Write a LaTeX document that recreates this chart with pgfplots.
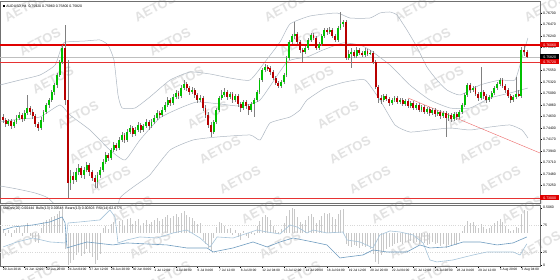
\documentclass[border=0pt]{standalone}
\usepackage{pgfplots}
\pgfplotsset{compat=1.18}
\usepackage{pgfplotstable}
\usepackage{fontspec}
\setmainfont{Liberation Sans}
\definecolor{upc}{HTML}{00C000}
\definecolor{dnc}{HTML}{B80000}
\definecolor{wick}{HTML}{808080}
\definecolor{band}{HTML}{AEB8C2}
\definecolor{frame}{HTML}{707070}
\definecolor{wm}{HTML}{E2E2E2}
\definecolor{boxred}{HTML}{E00000}
\definecolor{lineA}{HTML}{6F9CC0}
\definecolor{lineB}{HTML}{A7C4DA}
\definecolor{hist}{HTML}{C8C8C8}

\pgfplotstableread{
i o h l c
0 0.7462 0.7468 0.7450 0.7456
1 0.7456 0.7460 0.7442 0.7448
2 0.7448 0.7458 0.7444 0.7454
3 0.7454 0.7458 0.7438 0.7444
4 0.7444 0.7456 0.7440 0.7452
5 0.7452 0.7466 0.7448 0.7460
6 0.7460 0.7472 0.7456 0.7466
7 0.7466 0.7470 0.7452 0.7458
8 0.7458 0.7476 0.7454 0.7470
9 0.7470 0.7506 0.7466 0.7480
10 0.7480 0.7484 0.7466 0.7472
11 0.7472 0.7478 0.7458 0.7464
12 0.7464 0.7468 0.7442 0.7448
13 0.7448 0.7452 0.7434 0.7440
14 0.7440 0.7462 0.7436 0.7456
15 0.7456 0.7476 0.7452 0.7472
16 0.7472 0.7490 0.7468 0.7486
17 0.7486 0.7500 0.7480 0.7496
18 0.7496 0.7516 0.7492 0.7512
19 0.7512 0.7530 0.7506 0.7526
20 0.7526 0.7550 0.7520 0.7546
21 0.7546 0.7576 0.7542 0.7572
22 0.7572 0.7606 0.7568 0.7600
23 0.7600 0.7646 0.7486 0.7496
24 0.7496 0.7576 0.7300 0.7330
25 0.7330 0.7356 0.7316 0.7344
26 0.7344 0.7352 0.7328 0.7336
27 0.7336 0.7360 0.7332 0.7352
28 0.7352 0.7368 0.7346 0.7360
29 0.7360 0.7364 0.7340 0.7346
30 0.7346 0.7362 0.7338 0.7356
31 0.7356 0.7372 0.7352 0.7366
32 0.7366 0.7370 0.7344 0.7352
33 0.7352 0.7356 0.7334 0.7340
34 0.7340 0.7346 0.7320 0.7332
35 0.7332 0.7352 0.7320 0.7346
36 0.7346 0.7362 0.7340 0.7356
37 0.7356 0.7378 0.7352 0.7372
38 0.7372 0.7392 0.7368 0.7386
39 0.7386 0.7390 0.7374 0.7380
40 0.7380 0.7400 0.7376 0.7396
41 0.7396 0.7412 0.7392 0.7406
42 0.7406 0.7410 0.7394 0.7400
43 0.7400 0.7422 0.7396 0.7416
44 0.7416 0.7432 0.7412 0.7426
45 0.7426 0.7430 0.7410 0.7416
46 0.7416 0.7438 0.7412 0.7432
47 0.7432 0.7446 0.7428 0.7440
48 0.7440 0.7444 0.7422 0.7428
49 0.7428 0.7442 0.7424 0.7436
50 0.7436 0.7452 0.7432 0.7446
51 0.7446 0.7450 0.7430 0.7436
52 0.7436 0.7448 0.7432 0.7444
53 0.7444 0.7458 0.7440 0.7452
54 0.7452 0.7456 0.7436 0.7444
55 0.7444 0.7458 0.7440 0.7452
56 0.7452 0.7466 0.7448 0.7460
57 0.7460 0.7476 0.7456 0.7470
58 0.7470 0.7474 0.7460 0.7466
59 0.7466 0.7482 0.7462 0.7476
60 0.7476 0.7492 0.7472 0.7486
61 0.7486 0.7502 0.7482 0.7496
62 0.7496 0.7500 0.7484 0.7490
63 0.7490 0.7508 0.7486 0.7502
64 0.7502 0.7516 0.7498 0.7510
65 0.7510 0.7514 0.7498 0.7504
66 0.7504 0.7526 0.7500 0.7520
67 0.7520 0.7536 0.7516 0.7528
68 0.7528 0.7532 0.7514 0.7520
69 0.7520 0.7524 0.7506 0.7512
70 0.7512 0.7522 0.7508 0.7516
71 0.7516 0.7520 0.7500 0.7506
72 0.7506 0.7510 0.7490 0.7496
73 0.7496 0.7506 0.7492 0.7500
74 0.7500 0.7504 0.7474 0.7480
75 0.7480 0.7486 0.7460 0.7466
76 0.7466 0.7472 0.7440 0.7446
77 0.7446 0.7452 0.7422 0.7432
78 0.7432 0.7456 0.7428 0.7452
79 0.7452 0.7480 0.7448 0.7476
80 0.7476 0.7504 0.7472 0.7500
81 0.7500 0.7516 0.7496 0.7506
82 0.7506 0.7520 0.7502 0.7512
83 0.7512 0.7516 0.7496 0.7502
84 0.7502 0.7512 0.7498 0.7508
85 0.7508 0.7512 0.7490 0.7496
86 0.7496 0.7508 0.7492 0.7504
87 0.7504 0.7508 0.7482 0.7488
88 0.7488 0.7492 0.7472 0.7480
89 0.7480 0.7496 0.7476 0.7492
90 0.7492 0.7496 0.7478 0.7484
91 0.7484 0.7488 0.7466 0.7476
92 0.7476 0.7492 0.7472 0.7488
93 0.7488 0.7500 0.7462 0.7496
94 0.7496 0.7516 0.7492 0.7512
95 0.7512 0.7540 0.7508 0.7536
96 0.7536 0.7560 0.7532 0.7556
97 0.7556 0.7568 0.7552 0.7562
98 0.7562 0.7566 0.7554 0.7560
99 0.7560 0.7564 0.7546 0.7552
100 0.7552 0.7556 0.7536 0.7540
101 0.7540 0.7544 0.7526 0.7530
102 0.7530 0.7534 0.7520 0.7524
103 0.7524 0.7536 0.7520 0.7532
104 0.7532 0.7550 0.7528 0.7546
105 0.7546 0.7584 0.7542 0.7580
106 0.7580 0.7616 0.7576 0.7612
107 0.7612 0.7628 0.7608 0.7624
108 0.7624 0.7652 0.7618 0.7628
109 0.7628 0.7632 0.7608 0.7612
110 0.7612 0.7616 0.7590 0.7596
111 0.7596 0.7600 0.7572 0.7592
112 0.7592 0.7604 0.7588 0.7600
113 0.7600 0.7620 0.7596 0.7616
114 0.7616 0.7630 0.7612 0.7626
115 0.7626 0.7630 0.7616 0.7620
116 0.7620 0.7624 0.7596 0.7600
117 0.7600 0.7612 0.7596 0.7608
118 0.7608 0.7628 0.7604 0.7624
119 0.7624 0.7640 0.7620 0.7636
120 0.7636 0.7640 0.7626 0.7632
121 0.7632 0.7642 0.7628 0.7636
122 0.7636 0.7640 0.7620 0.7624
123 0.7624 0.7628 0.7612 0.7616
124 0.7616 0.7644 0.7612 0.7640
125 0.7640 0.7672 0.7636 0.7648
126 0.7648 0.7656 0.7642 0.7652
127 0.7652 0.7656 0.7576 0.7580
128 0.7580 0.7596 0.7576 0.7588
129 0.7588 0.7600 0.7560 0.7592
130 0.7592 0.7596 0.7580 0.7584
131 0.7584 0.7602 0.7580 0.7596
132 0.7596 0.7600 0.7586 0.7590
133 0.7590 0.7594 0.7582 0.7586
134 0.7586 0.7600 0.7582 0.7594
135 0.7594 0.7598 0.7584 0.7588
136 0.7588 0.7596 0.7586 0.7590
137 0.7590 0.7594 0.7568 0.7572
138 0.7572 0.7576 0.7518 0.7522
139 0.7522 0.7526 0.7490 0.7500
140 0.7500 0.7506 0.7488 0.7496
141 0.7496 0.7508 0.7492 0.7504
142 0.7504 0.7508 0.7494 0.7498
143 0.7498 0.7502 0.7484 0.7490
144 0.7490 0.7500 0.7486 0.7496
145 0.7496 0.7504 0.7492 0.7500
146 0.7500 0.7504 0.7488 0.7492
147 0.7492 0.7500 0.7488 0.7496
148 0.7496 0.7500 0.7484 0.7488
149 0.7488 0.7498 0.7484 0.7494
150 0.7494 0.7498 0.7480 0.7484
151 0.7484 0.7494 0.7480 0.7490
152 0.7490 0.7494 0.7476 0.7480
153 0.7480 0.7490 0.7476 0.7486
154 0.7486 0.7490 0.7472 0.7476
155 0.7476 0.7486 0.7472 0.7482
156 0.7482 0.7486 0.7468 0.7472
157 0.7472 0.7482 0.7468 0.7478
158 0.7478 0.7482 0.7464 0.7470
159 0.7470 0.7480 0.7466 0.7476
160 0.7476 0.7480 0.7462 0.7468
161 0.7468 0.7476 0.7464 0.7472
162 0.7472 0.7476 0.7458 0.7464
163 0.7464 0.7474 0.7460 0.7470
164 0.7470 0.7474 0.7422 0.7460
165 0.7460 0.7470 0.7454 0.7466
166 0.7466 0.7470 0.7452 0.7458
167 0.7458 0.7472 0.7454 0.7468
168 0.7468 0.7472 0.7456 0.7462
169 0.7462 0.7476 0.7458 0.7472
170 0.7472 0.7490 0.7468 0.7486
171 0.7486 0.7510 0.7482 0.7506
172 0.7506 0.7530 0.7502 0.7526
173 0.7526 0.7530 0.7510 0.7516
174 0.7516 0.7524 0.7512 0.7520
175 0.7520 0.7524 0.7504 0.7508
176 0.7508 0.7512 0.7494 0.7500
177 0.7500 0.7562 0.7496 0.7512
178 0.7512 0.7516 0.7498 0.7504
179 0.7504 0.7508 0.7490 0.7496
180 0.7496 0.7506 0.7492 0.7502
181 0.7502 0.7514 0.7498 0.7510
182 0.7510 0.7524 0.7506 0.7520
183 0.7520 0.7532 0.7516 0.7528
184 0.7528 0.7540 0.7524 0.7536
185 0.7536 0.7540 0.7520 0.7524
186 0.7524 0.7528 0.7510 0.7516
187 0.7516 0.7520 0.7500 0.7504
188 0.7504 0.7508 0.7490 0.7496
189 0.7496 0.7506 0.7492 0.7502
190 0.7502 0.7542 0.7498 0.7508
191 0.7508 0.7516 0.7502 0.7504
192 0.7504 0.7602 0.7500 0.7596
193 0.7596 0.7604 0.7584 0.7592
194 0.7592 0.7596 0.7580 0.7582
}\candles

\pgfplotstableread[row sep=\\]{
i d\\ 0 8\\ 1 -6\\ 2 5\\ 3 -8\\ 4 6\\ 5 10\\ 6 12\\ 7 -5\\ 8 14\\ 9 18\\ 10 -6\\ 11 -10\\ 12 -16\\ 13 -18\\ 14 10\\
15 20\\ 16 24\\ 17 26\\ 18 30\\ 19 32\\ 20 36\\ 21 40\\ 22 44\\
23 -30\\ 24 -60\\ 25 -55\\ 26 -50\\ 27 -40\\ 28 -35\\ 29 -42\\ 30 -38\\ 31 -30\\ 32 -36\\ 33 -45\\ 34 -58\\ 35 -50\\ 36 -38\\
37 10\\ 38 14\\ 39 8\\ 40 16\\ 41 20\\ 42 12\\ 43 22\\ 44 24\\ 45 14\\ 46 26\\ 47 28\\ 48 16\\ 49 22\\ 50 26\\ 51 14\\ 52 18\\ 53 24\\ 54 16\\
55 20\\ 56 24\\ 57 28\\ 58 22\\ 59 26\\ 60 30\\ 61 34\\ 62 28\\ 63 32\\ 64 36\\ 65 30\\ 66 38\\ 67 40\\ 68 34\\ 69 30\\ 70 28\\ 71 22\\ 72 16\\ 73 18\\
74 -12\\ 75 -20\\ 76 -28\\ 77 -34\\ 78 -10\\
79 12\\ 80 20\\ 81 18\\ 82 14\\ 83 8\\ 84 10\\ 85 -4\\ 86 6\\ 87 -8\\ 88 -12\\ 89 4\\ 90 -6\\ 91 -10\\ 92 2\\ 93 -4\\
94 14\\ 95 22\\ 96 30\\ 97 34\\ 98 30\\ 99 24\\ 100 14\\ 101 6\\ 102 2\\ 103 8\\ 104 18\\ 105 32\\ 106 42\\ 107 46\\ 108 44\\
109 30\\ 110 20\\ 111 16\\ 112 24\\ 113 32\\ 114 36\\ 115 30\\ 116 18\\ 117 24\\ 118 32\\ 119 38\\ 120 36\\ 121 38\\ 122 30\\ 123 26\\ 124 36\\ 125 42\\ 126 44\\
127 -20\\ 128 -24\\ 129 -26\\ 130 -22\\ 131 -24\\ 132 -28\\ 133 -24\\ 134 -26\\ 135 -24\\ 136 -30\\ 137 -38\\ 138 -54\\ 139 -58\\
140 -40\\ 141 -34\\ 142 -30\\ 143 -26\\ 144 -24\\ 145 -20\\ 146 -18\\ 147 -16\\ 148 -20\\ 149 -16\\ 150 -18\\ 151 -14\\ 152 -18\\ 153 -16\\ 154 -20\\
155 -14\\ 156 -18\\ 157 -22\\ 158 -20\\ 159 -16\\ 160 -20\\ 161 -18\\ 162 -24\\ 163 -20\\ 164 -28\\ 165 -22\\ 166 -24\\ 167 -20\\ 168 -22\\ 169 -14\\
170 4\\ 171 14\\ 172 22\\ 173 18\\ 174 20\\ 175 14\\ 176 10\\ 177 16\\ 178 12\\ 179 8\\ 180 10\\ 181 14\\ 182 18\\ 183 22\\ 184 26\\ 185 20\\ 186 14\\ 187 8\\ 188 4\\ 189 6\\ 190 12\\ 191 10\\
192 36\\ 193 42\\ 194 40\\
}\histo

\newcommand{\tf}{\fontsize{3.5}{4}\selectfont}
\newcommand{\df}{\fontsize{3.2}{4}\selectfont}

\begin{document}
\begin{tikzpicture}[x=1pt,y=1pt]
\useasboundingbox (0pt,0pt) rectangle (560pt,-280pt);
\fill[white] (0pt,0pt) rectangle (560pt,-280pt);
% watermarks
\foreach \wx/\wy in {25/8,155/8,285/8,415/8,545/8,
  40/42,170/42,300/42,430/42,
  53/80,183/80,313/80,443/80,
  78/115,208/115,338/115,468/115,
  90/150,220/150,350/150,480/150,
  110/180,240/180,370/180,500/180,
  2/210,132/210,262/210,392/210,522/210,
  20/245,150/245,280/245,410/245,540/245,
  40/275,170/275,300/275,430/275}
  {\node[rotate=28, text=wm, font=\bfseries\fontsize{13}{13}\selectfont] at (\wx pt,-\wy pt) {AETOS};}

\begin{axis}[at={(0pt,-1pt)}, anchor=north west, scale only axis,
  width=540pt, height=202pt,
  xmin=-1.111, xmax=198.889, ymin=0.7290, ymax=0.7694,
  clip mode=individual,
  axis line style={draw=frame, line width=0.5pt},
  xtick=\empty,
  ytick={0.7670,0.7647,0.7624,0.7601,0.7578,0.7555,0.7532,0.7509,0.7486,0.7463,0.7440,0.7417,0.7394,0.7371,0.7348,0.7325,0.7302},
  yticklabels={0.76700,0.76470,0.76240,0.76010,0.75780,0.75550,0.75320,0.75090,0.74860,0.74630,0.74400,0.74170,0.73940,0.73710,0.73480,0.73250,0.73020},
  ytick pos=right, yticklabel pos=right,
  tick align=outside, major tick length=2pt,
  tick style={draw=black, line width=0.3pt},
  yticklabel style={font=\tf, inner sep=0.5pt, xshift=0.5pt},
]
% bands
\addplot[band, line width=0.5pt, smooth, tension=0.3] coordinates {
(-1.1,0.7526) (6.3,0.7536) (13.7,0.7546) (19.3,0.7566) (21.9,0.7606) (23.3,0.7612) (30.4,0.7614) (35.9,0.7616) (38.9,0.7606) (41.1,0.7576) (42.6,0.7506) (44.1,0.7480) (48.9,0.7480) (54.4,0.7502) (61.9,0.7536) (69.3,0.7552) (76.7,0.7548) (84.1,0.7540) (91.5,0.7536) (97.0,0.7572) (102.6,0.7612) (106.3,0.7648) (113.7,0.7664) (123.7,0.7670) (128.5,0.7660) (135.9,0.7660) (139.6,0.7670) (143.3,0.7672) (145.9,0.7666) (149.6,0.7636) (153.3,0.7602) (157.0,0.7562) (160.7,0.7536) (164.4,0.7516) (169.3,0.7506) (176.7,0.7526) (184.1,0.7536) (189.6,0.7536) (192.2,0.7580) (194.4,0.7620)};
\addplot[band, line width=0.5pt, smooth, tension=0.3] coordinates {
(-1.1,0.7452) (6.3,0.7458) (13.7,0.7462) (21.1,0.7486) (24.8,0.7466) (32.2,0.7436) (39.6,0.7396) (45.2,0.7376) (50.7,0.7416) (58.1,0.7460) (65.6,0.7480) (71.9,0.7492) (80.4,0.7488) (87.8,0.7484) (95.2,0.7496) (105.2,0.7572) (112.6,0.7582) (118.5,0.7596) (125.9,0.7610) (132.2,0.7606) (135.9,0.7596) (143.3,0.7566) (150.7,0.7526) (158.1,0.7496) (165.6,0.7480) (173.0,0.7480) (180.4,0.7500) (187.8,0.7510) (194.4,0.7520)};
\addplot[band, line width=0.5pt, smooth, tension=0.3] coordinates {
(-1.1,0.7324) (3.3,0.7320) (7.0,0.7316) (11.9,0.7310) (16.7,0.7300) (21.9,0.7270) (23.3,0.7250) (35.9,0.7246) (41.9,0.7246) (43.3,0.7300) (51.9,0.7336) (54.4,0.7346) (61.9,0.7396) (70.4,0.7416) (79.3,0.7422) (91.5,0.7426) (95.2,0.7416) (98.9,0.7450) (106.3,0.7462) (110.0,0.7476) (112.6,0.7496) (119.3,0.7520) (126.7,0.7532) (134.1,0.7536) (139.6,0.7496) (145.2,0.7446) (150.7,0.7432) (158.1,0.7436) (165.6,0.7440) (173.0,0.7436) (180.4,0.7442) (187.8,0.7446) (192.2,0.7436) (194.4,0.7420)};
% horizontal lines
\addplot[boxred, line width=1.1pt] coordinates {(-1.111,0.7606) (198.889,0.7606)};
\addplot[boxred!80, line width=0.4pt] coordinates {(-1.111,0.7572) (198.889,0.7572)};
\addplot[gray!50, line width=0.4pt] coordinates {(-1.111,0.7582) (198.889,0.7582)};
\addplot[boxred!80, line width=0.4pt] coordinates {(-1.111,0.7300) (198.889,0.7300)};
% trend line
\addplot[boxred!60, line width=0.4pt] coordinates {(150.0,0.7500) (198.889,0.7390)};
% wicks
\addplot[draw=none, mark=none, error bars/.cd, y dir=both, y explicit, error mark=none,
  error bar style={draw=wick, line width=0.5pt}]
  table[x=i, y expr={(\thisrow{h}+\thisrow{l})/2}, y error expr={(\thisrow{h}-\thisrow{l})/2}] {\candles};
% up bodies
\addplot[draw=none, mark=none, restrict expr to domain={\thisrow{c}-\thisrow{o}}{0:1},
  error bars/.cd, y dir=both, y explicit, error mark=none,
  error bar style={draw=upc, line width=1.9pt}]
  table[x=i, y expr={(\thisrow{o}+\thisrow{c})/2}, y error expr={abs(\thisrow{c}-\thisrow{o})/2}] {\candles};
% down bodies
\addplot[draw=none, mark=none, restrict expr to domain={\thisrow{c}-\thisrow{o}}{-1:0},
  error bars/.cd, y dir=both, y explicit, error mark=none,
  error bar style={draw=dnc, line width=1.9pt}]
  table[x=i, y expr={(\thisrow{o}+\thisrow{c})/2}, y error expr={abs(\thisrow{c}-\thisrow{o})/2}] {\candles};
% header
\node[anchor=north west, font=\tf, inner sep=0.5pt] at (rel axis cs:0.005,0.985) {\rule{2pt}{2pt}\ AUDUSD,H4\ \ 0.75920 0.75960 0.75800 0.75820};
% price boxes
\node[anchor=west, fill=boxred, text=white, font=\tf, inner sep=0pt, minimum width=19pt, minimum height=5pt] at (axis cs:198.889,0.7606) {0.76060};
\node[anchor=west, fill=black, text=white, font=\tf, inner sep=0pt, minimum width=19pt, minimum height=5pt] at (axis cs:198.889,0.7582) {0.75820};
\node[anchor=west, fill=boxred, text=white, font=\tf, inner sep=0pt, minimum width=19pt, minimum height=5pt] at (axis cs:198.889,0.7572) {0.75720};
\node[anchor=west, fill=boxred, text=white, font=\tf, inner sep=0pt, minimum width=19pt, minimum height=5pt] at (axis cs:198.889,0.7300) {0.73000};
\end{axis}

\begin{axis}[at={(0pt,-205pt)}, anchor=north west, scale only axis,
  width=540pt, height=61pt,
  xmin=-1.111, xmax=198.889, ymin=-1, ymax=112,
  clip mode=individual,
  axis line style={draw=frame, line width=0.5pt},
  xtick={0,8,...,192},
  xticklabels={20 Jun 2016,21 Jun 12:00,22 Jun 20:00,24 Jun 04:00,27 Jun 12:00,28 Jun 20:00,30 Jun 04:00,1 Jul 12:00,4 Jul 20:00,6 Jul 04:00,7 Jul 12:00,8 Jul 20:00,12 Jul 04:00,13 Jul 12:00,14 Jul 20:00,18 Jul 04:00,19 Jul 12:00,20 Jul 20:00,22 Jul 04:00,25 Jul 12:00,26 Jul 20:00,28 Jul 04:00,29 Jul 12:00,1 Aug 20:00,3 Aug 04:00},
  xtick pos=bottom,
  xticklabel style={font=\df, anchor=north west, inner sep=0.5pt, xshift=-0.5pt},
  ytick={0,25,75,107}, yticklabels={0,25,75,0.5060},
  ytick pos=right, yticklabel pos=right,
  tick align=outside, major tick length=2pt,
  tick style={draw=black, line width=0.3pt},
  yticklabel style={font=\tf, inner sep=0.5pt, xshift=0.5pt},
]
\addplot[hist!70, dotted, line width=0.3pt] coordinates {(-1.111,75) (198.889,75)};
\addplot[hist!70, dotted, line width=0.3pt] coordinates {(-1.111,25) (198.889,25)};
\addplot[draw=none, mark=none, error bars/.cd, y dir=both, y explicit, error mark=none,
  error bar style={draw=hist, line width=0.5pt}]
  table[x=i, y expr={60+\thisrow{d}/2}, y error expr={abs(\thisrow{d})/2}] {\histo};
\addplot[lineB, line width=0.6pt] coordinates {
(0,34.3) (5.2,43.5) (11.1,50.9) (17.4,43.5) (23.0,41.7) (23.7,60.2) (24.1,78.7) (28.5,80.6) (35.9,84.3) (39.6,102.8) (41.5,89.8) (42.6,41.7) (45.9,47.2) (50.7,52.8) (57.0,50.9) (63.0,60.2) (68.1,65.7) (73.0,50.9) (76.7,34.3) (79.3,52.8) (85.2,50.9) (94.1,65.7) (97.8,62.0) (102.6,58.3) (106.3,75.0) (108.9,71.3) (112.6,60.2) (114.8,65.7) (120.0,60.2) (125.9,62.0) (127.4,47.2) (132.2,43.5) (137.0,32.4) (139.6,56.5) (143.3,63.9) (147.0,62.0) (151.9,56.5) (155.6,41.7) (158.1,10.2) (160.7,6.5) (166.7,10.2) (174.1,19.4) (179.3,25.0) (188.9,25.0) (191.5,19.4) (194.0,40.0)};
\addplot[lineA, line width=0.6pt] coordinates {
(0,65.7) (3.7,71.3) (11.1,75.0) (17.4,80.6) (21.9,89.8) (23.0,78.7) (23.7,32.4) (24.8,34.3) (31.1,43.5) (40.7,38.0) (45.9,41.7) (60.7,38.0) (68.1,32.4) (75.6,32.4) (77.8,25.0) (85.2,32.4) (92.6,43.5) (97.8,34.3) (102.6,43.5) (107.4,50.9) (114.8,43.5) (120.0,38.0) (124.8,13.9) (127.4,15.7) (133.3,19.4) (137.0,28.7) (142.2,25.0) (149.6,25.0) (154.4,38.0) (158.1,32.4) (164.4,34.3) (170.4,43.5) (176.7,43.5) (183.0,38.0) (188.9,41.7) (194.0,52.8)};
\node[anchor=north west, font=\tf, inner sep=0.5pt] at (rel axis cs:0.004,0.985) {StdDev(20) 0.00444\ \ Bulls(13) 0.00548\ \ Bears(13) 0.00303\ \ RSI(14) 62.6775};
\end{axis}
\end{tikzpicture}
\end{document}
